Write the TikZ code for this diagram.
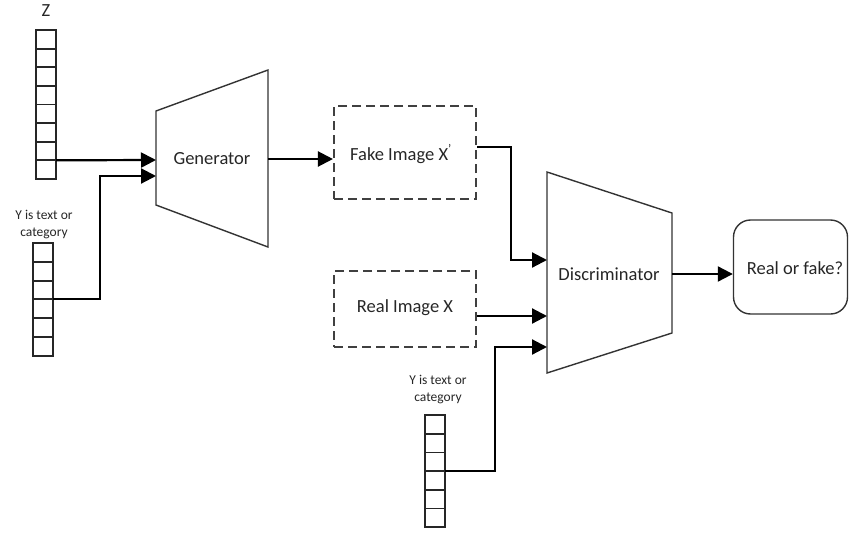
\documentclass[tikz,border=0pt]{standalone}
\usepackage{fontspec}
\setmainfont{Carlito}
\usetikzlibrary{arrows.meta}

\begin{document}
\begin{tikzpicture}[x=1pt,y=-1pt,
  conn/.style={line width=2.2pt, -{Triangle[length=15pt,width=15pt]}},
  block/.style={draw=black!80, line width=1.4pt, fill=white},
  dashbox/.style={draw=black!75, line width=2.1pt, dash pattern=on 9pt off 5pt,
    minimum width=142pt, inner sep=0pt},
  lbl/.style={font=\fontsize{18.5}{22}\selectfont, text=black!85},
  small/.style={font=\fontsize{13.5}{17}\selectfont, text=black!85, align=center},
  cell/.style={draw=black!85, line width=1.8pt, fill=white, minimum width=20pt,
    minimum height=18.7pt, inner sep=0pt, outer sep=0pt}
]
\useasboundingbox (0,0) rectangle (849,533);

% noise vector z
\node[lbl] (zlabel) at (46,11) {Z};
\foreach \i in {1,...,8}
  \node[cell, anchor=north west] (z-\i) at (36,{30+(\i-1)*18.6}) {};

% condition vector y for the generator
\node[small] (ylabel) at (44,225) {Y is text or\\category};
\foreach \i in {1,...,6}
  \node[cell, anchor=north west] (y-\i) at (33,{243+(\i-1)*18.8}) {};

% generator
\coordinate (g-tl) at (156,111);
\coordinate (g-tr) at (268,70);
\coordinate (g-br) at (268,247);
\coordinate (g-bl) at (156,205);
\draw[block] (g-tl) -- (g-tr) -- (g-br) -- (g-bl) -- cycle;
\node[lbl] (gen) at (212,159) {Generator};
\coordinate (g-in1) at (156,160);
\coordinate (g-in2) at (156,176);
\coordinate (g-out) at (268,159);
\coordinate (y-bend) at (100,176);

% fake and real images
\node[dashbox, minimum height=93pt] (fake) at (405,152.5) {};
\node[lbl] (fakelabel) at (401,154) {Fake Image X\textsuperscript{'}};
\node[dashbox, minimum height=76pt] (real) at (405,309) {};
\node[lbl] (reallabel) at (405,308) {Real Image X};

% discriminator
\coordinate (d-tl) at (547,172);
\coordinate (d-tr) at (672,213);
\coordinate (d-br) at (672,333);
\coordinate (d-bl) at (547,373);
\draw[block] (d-tl) -- (d-tr) -- (d-br) -- (d-bl) -- cycle;
\node[lbl] (disc) at (609,274) {Discriminator};
\coordinate (d-in1) at (547,260);
\coordinate (d-in2) at (547,316);
\coordinate (d-in3) at (547,347);
\coordinate (d-out) at (672,274);
\coordinate (f-out) at (477,147);
\coordinate (f-bend) at (511,260);
\coordinate (y2-bend) at (495,347);

% condition vector y for the discriminator
\node[small] (y2label) at (438,390) {Y is text or\\category};
\foreach \i in {1,...,6}
  \node[cell, anchor=north west] (y2-\i) at (425,{415+(\i-1)*18.7}) {};

% decision
\node[draw=black!80, line width=1.4pt, rounded corners=17pt, minimum width=114pt,
  minimum height=94pt, inner sep=0pt] (out) at (790.5,267) {};
\node[lbl] (outlabel) at (795,268) {Real or fake?};

% connectors
\draw[conn] (z-7.south east) -- (g-in1);
\draw[conn] (y-3.south east) -| (y-bend) -- (g-in2);
\draw[conn] (g-out) -- (fake.west |- g-out);
\draw[conn] (f-out) -| (f-bend) -- (d-in1);
\draw[conn] (real.east |- d-in2) -- (d-in2);
\draw[conn] (y2-3.south east) -| (y2-bend) -- (d-in3);
\draw[conn] (d-out) -- (out.west |- d-out);
\end{tikzpicture}
\end{document}
